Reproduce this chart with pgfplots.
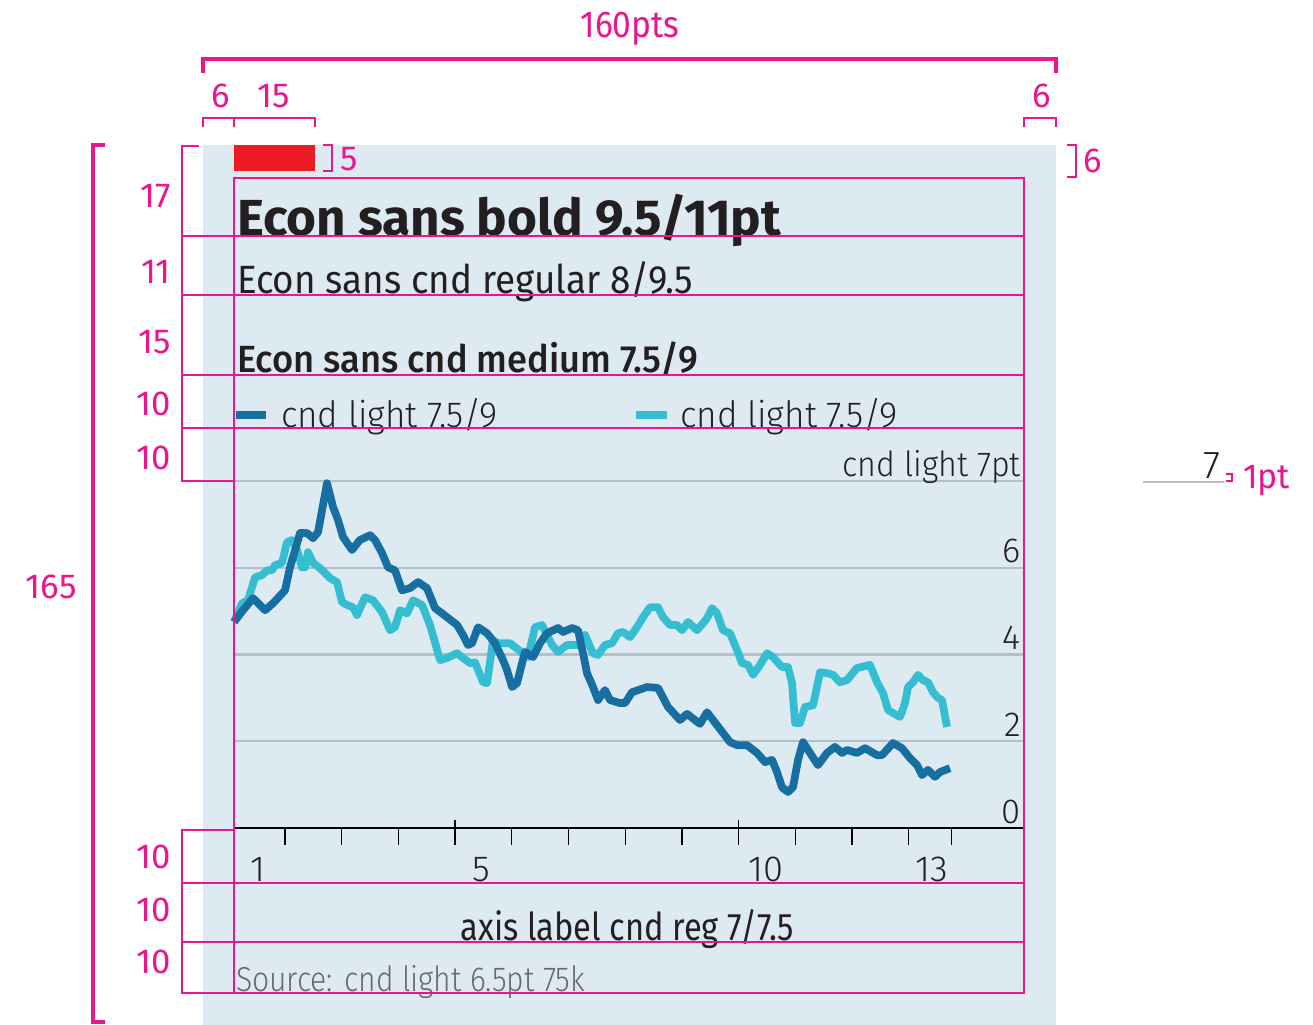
\documentclass[border=0pt]{standalone}
\usepackage{fontspec}
\usepackage{graphicx}
\usepackage{pgfplots}
\pgfplotsset{compat=1.18}
\setmainfont{Fira Sans}
\newfontfamily\flight{Fira Sans Light}
\newfontfamily\fmed{Fira Sans Medium}
\newlength\pu \setlength\pu{0.1875pt}
\newcommand\fw[2]{\resizebox{#1\pu}{\height}{#2}}
\definecolor{mag}{RGB}{234,22,140}
\definecolor{bg}{RGB}{222,234,242}
\definecolor{ered}{RGB}{237,28,36}
\definecolor{dblue}{RGB}{23,111,161}
\definecolor{cyan2}{RGB}{53,190,210}
\definecolor{gridg}{RGB}{180,192,201}
\definecolor{txt}{RGB}{35,31,32}
\definecolor{srcg}{RGB}{105,105,105}
\begin{document}
\begin{tikzpicture}
\begin{scope}[x=0.1875pt,y=-0.1875pt]
\useasboundingbox (0,0) rectangle (1313,1025);
\fill[bg] (203,145) rectangle (1056,1025);
\fill[ered] (234,145) rectangle (315,171);
% texts
\node[anchor=base west,inner sep=0,text=txt,font=\bfseries\fontsize{9.5}{11}\selectfont] at (236,235) {\fw{544}{Econ sans bold 9.5/11pt}};
\node[anchor=base west,inner sep=0,text=txt,font=\fontsize{7.4}{9}\selectfont] at (236,293) {\fw{456}{Econ sans cnd regular 8/9.5}};
\node[anchor=base west,inner sep=0,text=txt,font=\fmed\fontsize{7.1}{9}\selectfont] at (236,372) {\fw{461}{Econ sans cnd medium 7.5/9}};
\draw[dblue,line width=8\pu] (236,415) -- (266,415);
\draw[cyan2,line width=8\pu] (636,415) -- (667,415);
\node[anchor=base west,inner sep=0,text=txt,font=\flight\fontsize{6.8}{9}\selectfont] at (280,427) {\fw{217}{cnd light 7.5/9}};
\node[anchor=base west,inner sep=0,text=txt,font=\flight\fontsize{6.8}{9}\selectfont] at (679,427) {\fw{218}{cnd light 7.5/9}};
\node[anchor=base,inner sep=0,text=txt,font=\fontsize{7.2}{9}\selectfont] at (627,940) {\fw{333}{axis label cnd reg 7/7.5}};
\node[anchor=base west,inner sep=0,text=srcg,font=\flight\fontsize{6.5}{8}\selectfont] at (235,991) {\fw{349}{Source: cnd light 6.5pt 75k}};
% right-side sample
\draw[gridg,line width=2.5\pu] (1143,482) -- (1224,482);
\node[anchor=base east,inner sep=0,text=txt,font=\flight\fontsize{7.3}{9}\selectfont] at (1222,478) {7};
\end{scope}

\begin{axis}[
  at={(43.875pt,-155.25pt)}, anchor=south west,
  scale only axis, width=148.125pt, height=65.0625pt,
  xmin=1.1, xmax=15.033, ymin=0, ymax=8,
  clip=false,
  separate axis lines,
  axis x line*=bottom, axis y line*=right,
  x axis line style={draw=black, line width=0.3pt},
  y axis line style={draw=none},
  xtick={2,...,13,13.75}, xticklabels={},
  xtick align=outside,
  major tick length=3.19pt,
  xtick style={draw=black, line width=0.25pt},
  ytick={0,2,4,6,8},
  ytick style={draw=none},
  yticklabels={0,2,4,6,{\fw{178}{cnd light 7pt}}},
  ymajorgrids, grid style={draw=gridg, line width=0.45pt},
  yticklabel style={anchor=base east, inner sep=0pt, xshift=-0.4pt, yshift=0.9pt, text=txt, font=\flight\fontsize{6.5}{8}\selectfont},
  yticklabel shift=0pt,
]
\addplot[cyan2, line width=1.45pt, line join=round] coordinates {
(1.10,4.75)(1.242,5.18)(1.347,5.25)(1.471,5.78)(1.594,5.83)(1.683,5.94)(1.771,5.94)(1.824,6.06)(1.947,6.11)(2.035,6.59)(2.123,6.64)(2.212,6.41)(2.300,6.01)(2.353,6.01)(2.406,6.36)(2.494,6.11)(2.617,5.99)(2.794,5.76)(2.917,5.67)(3.005,5.21)(3.093,5.14)(3.199,5.09)(3.270,4.91)(3.411,5.32)(3.552,5.25)(3.711,4.98)(3.852,4.56)(3.940,4.63)(4.028,5.02)(4.152,4.95)(4.258,5.25)(4.416,5.14)(4.557,4.68)(4.734,3.87)(4.857,3.92)(5.034,4.03)(5.139,3.92)(5.263,3.80)(5.351,3.82)(5.492,3.36)(5.563,3.34)(5.668,4.33)(5.757,4.26)(5.968,4.26)(6.233,3.99)(6.286,3.94)(6.409,4.63)(6.533,4.68)(6.709,4.22)(6.815,4.06)(6.974,4.22)(7.168,4.22)(7.291,4.45)(7.432,4.03)(7.520,3.99)(7.644,4.22)(7.767,4.26)(7.873,4.49)(7.961,4.52)(8.085,4.40)(8.208,4.63)(8.314,4.86)(8.437,5.09)(8.578,5.09)(8.667,4.86)(8.790,4.68)(8.914,4.68)(9.002,4.56)(9.108,4.75)(9.266,4.56)(9.372,4.72)(9.443,4.84)(9.531,5.07)(9.619,4.95)(9.725,4.56)(9.848,4.49)(9.972,4.10)(10.060,3.80)(10.166,3.76)(10.254,3.53)(10.377,3.76)(10.501,4.03)(10.607,3.94)(10.765,3.71)(10.871,3.71)(10.942,3.34)(10.995,2.42)(11.083,2.42)(11.171,2.79)(11.312,2.83)(11.436,3.59)(11.559,3.57)(11.665,3.53)(11.788,3.36)(11.912,3.41)(12.088,3.69)(12.317,3.76)(12.441,3.36)(12.547,3.11)(12.635,2.72)(12.723,2.65)(12.847,2.56)(12.935,2.88)(12.988,3.25)(13.076,3.36)(13.164,3.53)(13.252,3.41)(13.340,3.36)(13.429,3.13)(13.517,3.00)(13.587,2.95)(13.675,2.33)
};
\addplot[dblue, line width=1.45pt, line join=round] coordinates {
(1.10,4.75)(1.259,5.02)(1.436,5.30)(1.647,5.02)(1.788,5.18)(2.000,5.48)(2.088,6.01)(2.265,6.80)(2.388,6.80)(2.494,6.68)(2.582,6.82)(2.741,7.95)(2.847,7.40)(2.935,7.10)(3.023,6.71)(3.181,6.41)(3.322,6.64)(3.499,6.75)(3.587,6.64)(3.711,6.34)(3.817,6.01)(3.940,5.94)(4.063,5.48)(4.205,5.53)(4.346,5.67)(4.504,5.53)(4.646,5.07)(4.857,4.86)(5.034,4.68)(5.139,4.45)(5.228,4.22)(5.298,4.26)(5.404,4.63)(5.563,4.49)(5.704,4.26)(5.845,3.87)(5.915,3.64)(6.004,3.25)(6.092,3.34)(6.180,3.80)(6.233,4.06)(6.374,3.94)(6.497,4.26)(6.621,4.49)(6.815,4.61)(6.903,4.52)(7.062,4.61)(7.168,4.56)(7.256,4.03)(7.326,3.57)(7.432,3.25)(7.520,2.95)(7.644,3.18)(7.732,2.95)(7.908,2.88)(7.996,2.88)(8.120,3.13)(8.384,3.25)(8.578,3.23)(8.755,2.79)(8.966,2.49)(9.090,2.63)(9.319,2.40)(9.443,2.67)(9.619,2.37)(9.848,1.98)(9.972,1.91)(10.148,1.91)(10.325,1.73)(10.466,1.52)(10.589,1.57)(10.677,1.29)(10.765,0.94)(10.871,0.83)(10.959,0.94)(11.048,1.57)(11.136,1.98)(11.259,1.73)(11.400,1.45)(11.559,1.73)(11.700,1.87)(11.824,1.73)(11.912,1.80)(12.088,1.73)(12.229,1.84)(12.441,1.68)(12.529,1.68)(12.723,1.96)(12.882,1.84)(13.023,1.61)(13.146,1.45)(13.235,1.22)(13.340,1.34)(13.464,1.18)(13.552,1.29)(13.728,1.38)
};
\draw[black, line width=0.25pt] ([yshift=1.5pt]axis cs:5,0) -- ([yshift=-3.19pt]axis cs:5,0);
\draw[black, line width=0.25pt] ([yshift=1.5pt]axis cs:10,0) -- ([yshift=-3.19pt]axis cs:10,0);
\draw[gridg, line width=0.25pt] (axis cs:1.1,0) -- ([yshift=-3.19pt]axis cs:1.1,0);
\node[anchor=base, inner sep=0, text=txt, font=\flight\fontsize{6.8}{8}\selectfont, yshift=-9.94pt] at (axis cs:1.524,0) {1};
\node[anchor=base, inner sep=0, text=txt, font=\flight\fontsize{6.8}{8}\selectfont, yshift=-9.94pt] at (axis cs:5.466,0) {5};
\node[anchor=base, inner sep=0, text=txt, font=\flight\fontsize{6.8}{8}\selectfont, yshift=-9.94pt] at (axis cs:10.48,0) {10};
\node[anchor=base, inner sep=0, text=txt, font=\flight\fontsize{6.8}{8}\selectfont, yshift=-9.94pt] at (axis cs:13.40,0) {13};
\end{axis}

\begin{scope}[x=0.1875pt,y=-0.1875pt, mag]
\tikzset{mt/.style={anchor=base,inner sep=0,text=mag,font=\fontsize{6.5}{8}\selectfont}}
% top 160pts
\node[mt, font=\fontsize{7}{8}\selectfont] at (630,37) {\fw{99}{160pts}};
\draw[line width=3.2\pu] (203,73) -- (203,59) -- (1056,59) -- (1056,73);
\node[mt] at (221,107) {6};
\node[mt] at (274,107) {15};
\node[mt] at (1042,107) {6};
\draw[line width=1.6\pu] (203,127) -- (203,118) -- (315,118) -- (315,127);
\draw[line width=1.6\pu] (234,118) -- (234,127);
\draw[line width=1.6\pu] (1024,127) -- (1024,118) -- (1056,118) -- (1056,127);
% red bar bracket
\draw[line width=1.6\pu] (323,145) -- (332,145) -- (332,171) -- (323,171);
\node[mt,anchor=base west] at (339,170) {5};
% right bracket
\draw[line width=1.6\pu] (1067,145) -- (1076,145) -- (1076,177) -- (1067,177);
\node[mt,anchor=base west] at (1082,172) {6};
% frame
\draw[line width=2.2\pu] (234,178) rectangle (1024,993);
\draw[line width=2.2\pu] (199,146) -- (182,146) -- (182,481) -- (234,481);
\foreach \yy in {236,295,375,428} {\draw[line width=2.2\pu] (182,\yy) -- (1024,\yy);}
\draw[line width=2.2\pu] (234,830) -- (182,830) -- (182,993) -- (234,993);
\foreach \yy in {883,942} {\draw[line width=2.2\pu] (182,\yy) -- (1024,\yy);}
\node[mt,anchor=base east] at (172,207) {17};
\node[mt,anchor=base east] at (172,283) {11};
\node[mt,anchor=base east] at (172,353) {15};
\node[mt,anchor=base east] at (172,415) {10};
\node[mt,anchor=base east] at (172,469) {10};
\node[mt,anchor=base east] at (172,868) {10};
\node[mt,anchor=base east] at (172,921) {10};
\node[mt,anchor=base east] at (172,973) {10};
% outer 165
\draw[line width=3.2\pu] (105,145) -- (93,145) -- (93,1022) -- (105,1022);
\node[mt] at (51,598) {\fw{51}{165}};
% 1pt
\draw[line width=1.6\pu] (1226,474) -- (1232,474) -- (1232,481) -- (1226,481);
\node[mt,anchor=base west] at (1242,488) {\fw{47}{1pt}};
\end{scope}
\end{tikzpicture}
\end{document}
